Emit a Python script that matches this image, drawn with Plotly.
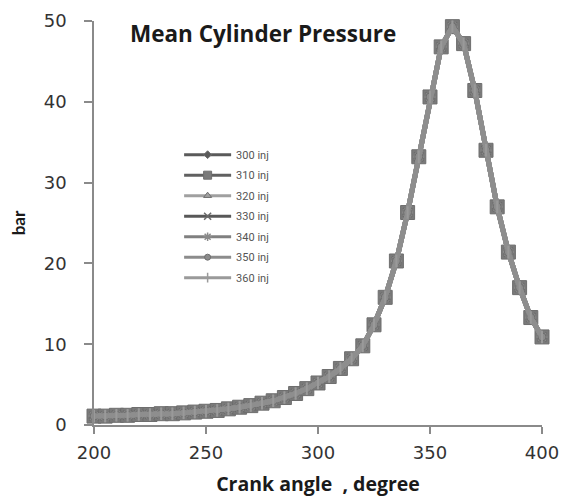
import plotly.graph_objects as go

# Crank angle (degree)
crank_angle = [200, 205, 210, 215, 220, 225, 230, 235, 240, 245, 250, 255, 260, 265, 270,
               275, 280, 285, 290, 295, 300, 305, 310, 315, 320, 325, 330, 335, 340, 345,
               350, 355, 360, 365, 370, 375, 380, 385, 390, 395, 400]

# Mean cylinder pressure (bar) - all injection timings overlap in the picture
p_300 = [1.1, 1.1, 1.2, 1.2, 1.3, 1.3, 1.4, 1.4, 1.5, 1.6, 1.7, 1.8, 2.0, 2.2, 2.4,
         2.7, 3.0, 3.4, 3.9, 4.5, 5.2, 6.0, 7.0, 8.2, 9.8, 12.4, 15.8, 20.3, 26.3, 33.2,
         40.6, 46.8, 49.3, 47.2, 41.4, 34.0, 27.0, 21.4, 17.0, 13.3, 10.9]
p_310 = list(p_300)
p_320 = list(p_300)
p_330 = list(p_300)
p_340 = list(p_300)
p_350 = list(p_300)
p_360 = list(p_300)

series_names = ["300 inj", "310 inj", "320 inj", "330 inj", "340 inj", "350 inj", "360 inj"]
series_values = [p_300, p_310, p_320, p_330, p_340, p_350, p_360]

styles = [
    dict(line="#5a5a5a", marker="diamond", mcolor="#5a5a5a", size=7, lsize=6),
    dict(line="#606060", marker="square", mcolor="#7a7a7a", size=14, lsize=8),
    dict(line="#a0a0a0", marker="triangle-up", mcolor="#a0a0a0", size=9, lsize=7),
    dict(line="#585858", marker="x-thin", mcolor="#6a6a6a", size=9, lsize=7),
    dict(line="#808080", marker="asterisk", mcolor="#8a8a8a", size=9, lsize=7),
    dict(line="#8c8c8c", marker="circle", mcolor="#8c8c8c", size=8, lsize=6),
    dict(line="#9a9a9a", marker="line-ns", mcolor="#9a9a9a", size=9, lsize=7),
]

fig = go.Figure()

for name, vals, st in zip(series_names, series_values, styles):
    mk = dict(symbol=st["marker"], size=st["size"], color=st["mcolor"],
              line=dict(color="#6e6e6e", width=1))
    if st["marker"] in ("x-thin", "asterisk", "line-ns"):
        mk["line"] = dict(color=st["mcolor"], width=2)
    fig.add_trace(go.Scatter(
        x=crank_angle, y=vals, mode="lines+markers", name=name,
        line=dict(color="#8e8e8e", width=5),
        marker=mk, showlegend=False, cliponaxis=False,
    ))

# legend entries (smaller symbols than in the plot)
for i, (name, st) in enumerate(zip(series_names, styles)):
    mk = dict(symbol=st["marker"], size=st["lsize"], color=st["mcolor"],
              line=dict(color="#6e6e6e", width=1))
    if st["marker"] in ("x-thin", "asterisk", "line-ns"):
        mk["line"] = dict(color=st["mcolor"], width=1.5)
    fig.add_trace(go.Scatter(
        x=[None], y=[None], mode="lines+markers", name=name,
        line=dict(color=st["line"], width=3), marker=mk,
        legendgroup="g%d" % i, showlegend=True,
    ))

fig.add_annotation(
    text="<b>Mean Cylinder Pressure</b>", xref="paper", yref="paper",
    x=0.075, y=0.97, xanchor="left", yanchor="middle", showarrow=False,
    font=dict(family="Open Sans", size=22.5, color="#1a1a1a"),
)

fig.update_layout(
    width=569, height=499,
    margin=dict(l=86, r=35, t=13, b=82),
    paper_bgcolor="white", plot_bgcolor="white",
    showlegend=True,
    legend=dict(
        x=0.19, y=0.705, xanchor="left", yanchor="top",
        bgcolor="rgba(0,0,0,0)", font=dict(family="Roboto", size=11, color="#555555"),
        itemwidth=47, tracegroupgap=1.5,
    ),
    xaxis=dict(
        range=[200, 400], tickvals=[200, 250, 300, 350, 400], automargin=False,
        showgrid=False, zeroline=False, showline=True, linecolor="#8a8a8a", linewidth=1.5,
        ticks="outside", ticklen=7, tickcolor="#8a8a8a", tickwidth=1.5,
        ticklabelstandoff=4,
        tickfont=dict(family="DejaVu Sans", size=18, color="#333333"),
        title=dict(text="<b>Crank angle  , degree</b>", standoff=15,
                   font=dict(family="Open Sans", size=19.5, color="#1a1a1a")),
    ),
    yaxis=dict(
        range=[0, 50], tickvals=[0, 10, 20, 30, 40, 50], automargin=False,
        showgrid=False, zeroline=False, showline=True, linecolor="#8a8a8a", linewidth=1.5,
        ticks="outside", ticklen=8, tickcolor="#8a8a8a", tickwidth=1.5,
        ticklabelstandoff=14,
        tickfont=dict(family="DejaVu Sans", size=18, color="#333333"),
        title=dict(text="<b>bar</b>", standoff=20,
                   font=dict(family="Lato", size=17, color="#1a1a1a")),
    ),
)

fig.write_html("out.html")
